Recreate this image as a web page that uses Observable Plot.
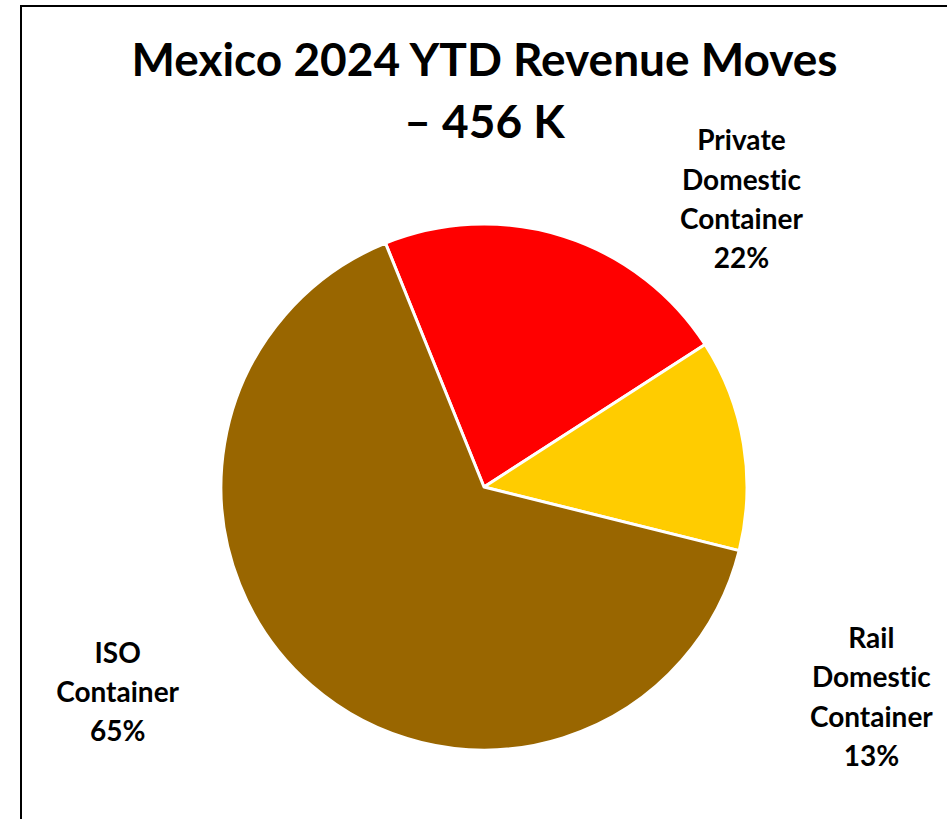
<!DOCTYPE html>
<html>
<head>
<meta charset="utf-8">
<script src="https://cdn.jsdelivr.net/npm/d3@7"></script>
<script src="https://cdn.jsdelivr.net/npm/@observablehq/plot@0.6"></script>
<style>
  html, body { margin: 0; padding: 0; background: #fff; overflow: hidden; width: 947px; height: 819px; }
  #frame { position: absolute; left: 20px; top: 5px; width: 1000px; height: 1000px; border: 2px solid #000; box-sizing: border-box; }
  #chart { position: absolute; left: 0; top: 0; }
  #chart text { font-variant-ligatures: none; }
  #title { position: absolute; left: 21px; top: 28px; width: 927px; text-align: center;
    font-family: Lato, "Open Sans", sans-serif; font-weight: bold; font-size: 46px; line-height: 62px; color: #000; }
</style>
</head>
<body>
<div id="frame"></div>
<div id="chart"></div>
<div id="title">Mexico 2024 YTD Revenue Moves<br>– 456 K</div>
<script>
const categories = ["Private Domestic Container", "Rail Domestic Container", "ISO Container"];
const labelLines = [["Private", "Domestic", "Container"], ["Rail", "Domestic", "Container"], ["ISO", "Container"]];
const shares = [22, 13, 65];
const colors = ["#FF0000", "#FFCC00", "#996600"];

// label placement (unit circle coordinates, y downward), kept apart from data
const labelPos = [[0.977, -1.106], [1.471, 0.787], [-1.395, 0.768]];
const startDeg = -22;

const data = categories.map((c, i) => ({
  category: c,
  share: shares[i],
  color: colors[i],
  label: labelLines[i].join("\n") + "\n" + shares[i] + "%",
  lx: labelPos[i][0],
  ly: labelPos[i][1]
}));

const a0 = startDeg * Math.PI / 180;
const pie = d3.pie().value(d => d.share).sort(null).startAngle(a0).endAngle(a0 + 2 * Math.PI);
const arcs = pie(data);

function pieMark(index, scales) {
  const cx = scales.x(0), cy = scales.y(0);
  const r = scales.x(1) - scales.x(0);
  const arc = d3.arc().innerRadius(0).outerRadius(r);
  const g = d3.create("svg:g").attr("transform", `translate(${cx},${cy})`);
  g.selectAll("path").data(arcs).join("path")
    .attr("d", arc)
    .attr("fill", d => d.data.color)
    .attr("stroke", "#fff")
    .attr("stroke-width", 3)
    .attr("stroke-linejoin", "round");
  return g.node();
}

const chart = Plot.plot({
  width: 947,
  height: 819,
  marginLeft: 221,
  marginRight: 200,
  marginTop: 224,
  marginBottom: 69,
  x: { domain: [-1, 1], axis: null },
  y: { domain: [-1, 1], reverse: true, axis: null },
  style: { background: "transparent", fontFamily: "Lato, 'Open Sans', sans-serif" },
  marks: [
    pieMark,
    Plot.text(data, {
      x: "lx", y: "ly", text: "label",
      fontSize: 28, fontWeight: "bold", fill: "#000",
      lineHeight: 1.4, textAnchor: "middle"
    })
  ]
});
document.getElementById("chart").appendChild(chart);
</script>
</body>
</html>
